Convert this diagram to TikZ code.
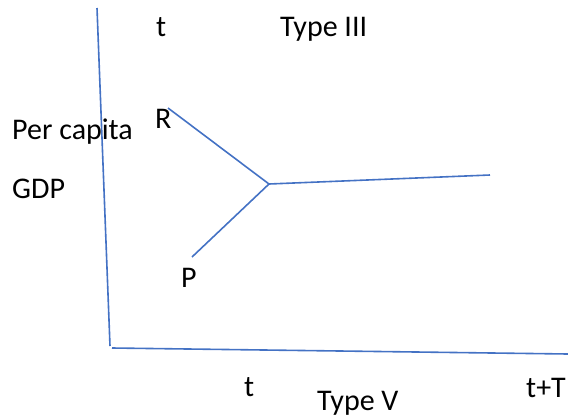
\documentclass[tikz,border=0pt]{standalone}
\usepackage{fontspec}
\setmainfont{Carlito}
\usetikzlibrary{positioning}
\definecolor{lineblue}{HTML}{4472C4}
\tikzset{
  axisline/.style={draw=lineblue, line width=1.6pt},
  pathline/.style={draw=lineblue, line width=1.6pt},
  txtlabel/.style={anchor=base west, inner sep=0pt, font=\fontsize{30}{36}\selectfont}
}
\begin{document}
\begin{tikzpicture}[x=1pt, y=-1pt]
\useasboundingbox (0,0) rectangle (568,416);
% axes
\coordinate (ytop) at (97,8);
\coordinate (origin) at (110,346);
\coordinate (xstart) at (112,348);
\coordinate (xend) at (568,354);
\draw[axisline] (ytop) -- (origin);
\draw[axisline] (xstart) -- (xend);
% rich and poor paths meeting
\coordinate (rstart) at (168,108);
\coordinate (pstart) at (192,257);
\coordinate (meet) at (269,184);
\coordinate (tend) at (490,175);
\draw[pathline] (rstart) -- (meet);
\draw[pathline] (pstart) -- (meet);
\draw[pathline] (meet) -- (tend);
% labels
\node[txtlabel] (ttop) at (156,36) {t};
\node[txtlabel] (type3) at (280,36) {Type III};
\node[txtlabel] (rlab) at (155,128) {R};
\node[txtlabel] (percap) at (12,139) {Per capita};
\node[txtlabel] (gdp) at (12,198) {GDP};
\node[txtlabel] (plab) at (181,287) {P};
\node[txtlabel] (tbot) at (244,396) {t};
\node[txtlabel] (type5) at (317,410) {Type V};
\node[txtlabel] (tT) at (526,397) {t+T};
\end{tikzpicture}
\end{document}
